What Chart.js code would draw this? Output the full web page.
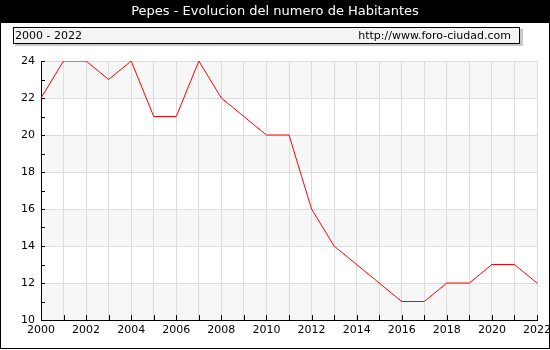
<!DOCTYPE html>
<html>
<head>
<meta charset="utf-8">
<script src="https://cdn.jsdelivr.net/npm/chart.js@4"></script>
<style>
  body { margin: 0; background: #fff; }
  canvas { display: block; }
</style>
</head>
<body>
<canvas id="HabitantesChart" width="550" height="350"></canvas>
<script>
var years = ["2000", "2001", "2002", "2003", "2004", "2005", "2006", "2007", "2008", "2009", "2010", "2011",
    "2012", "2013", "2014", "2015", "2016", "2017", "2018", "2019", "2020", "2021", "2022"];
var habitantes = [22, 24, 24, 23, 24, 21, 21, 24, 22, 21, 20, 20, 16, 14, 13, 12, 11, 11, 12, 12, 13, 13, 12];
var yTicks = [10, 12, 14, 16, 18, 20, 22, 24];
var titleText = "Pepes - Evolucion del numero de Habitantes";
var rangeText = "2000 - 2022";
var siteText = "http://www.foro-ciudad.com";

var FONT = "DejaVu Sans";

// bands, title bar, info box and the small inner tick marks
var decor = {
    id: 'decor',
    beforeDraw: function (chart) {
        var c = chart.ctx, a = chart.chartArea, y = chart.scales.y;
        c.save();
        c.fillStyle = '#fff';
        c.fillRect(0, 0, chart.width, chart.height);
        c.fillStyle = '#f7f7f7';
        for (var i = 0; i < yTicks.length - 1; i += 2) {
            var top = y.getPixelForValue(yTicks[i + 1]);
            var bot = y.getPixelForValue(yTicks[i]);
            c.fillRect(a.left, top, a.right - a.left, bot - top);
        }
        c.restore();
    },
    afterDraw: function (chart) {
        var c = chart.ctx, a = chart.chartArea, x = chart.scales.x, y = chart.scales.y;
        c.save();
        // title bar
        c.fillStyle = '#000';
        c.fillRect(0, 0, chart.width, 23);
        c.fillStyle = '#fff';
        c.font = '13px "' + FONT + '"';
        c.textAlign = 'center';
        c.textBaseline = 'middle';
        c.fillText(titleText, chart.width / 2, 12);
        // info box with shadow
        c.fillStyle = '#c8c8c8';
        c.fillRect(15, 29, 508, 17);
        c.fillStyle = '#f4f4f4';
        c.fillRect(13, 27, 507, 17);
        c.strokeStyle = '#000';
        c.lineWidth = 1;
        c.strokeRect(13.5, 27.5, 506, 16);
        c.fillStyle = '#000';
        c.font = '11px "' + FONT + '"';
        c.textAlign = 'left';
        c.fillText(rangeText, 15, 36);
        c.textAlign = 'right';
        c.fillText(siteText, 511, 36);
        // y ticks, major and minor, pointing into the plot
        c.strokeStyle = '#000';
        c.beginPath();
        for (var v = yTicks[0]; v <= yTicks[yTicks.length - 1]; v++) {
            var py = Math.round(y.getPixelForValue(v)) + 0.5;
            c.moveTo(a.left, py);
            c.lineTo(a.left + 4, py);
        }
        // x ticks pointing up
        for (var i = 0; i < years.length; i++) {
            var px = Math.round(x.getPixelForValue(i)) + 0.5;
            c.moveTo(px, a.bottom);
            c.lineTo(px, a.bottom - 5);
        }
        c.stroke();
        // outer frame
        c.strokeRect(0.5, 0.5, chart.width - 1, chart.height - 2);
        c.restore();
    }
};

var ctx = document.getElementById("HabitantesChart").getContext("2d");

var lineChart = new Chart(ctx, {
    type: 'line',
    data: {
        labels: years,
        datasets: [{
            label: "Habitantes",
            data: habitantes,
            borderColor: '#ff0000',
            borderWidth: 1,
            pointRadius: 0,
            tension: 0,
            fill: false
        }]
    },
    plugins: [decor],
    options: {
        responsive: false,
        animation: false,
        layout: { padding: { left: 0, top: 61, right: 13, bottom: 0 } },
        plugins: {
            legend: { display: false },
            title: { display: false },
            tooltip: { enabled: false }
        },
        scales: {
            x: {
                offset: false,
                afterFit: function (s) {
                    s.height = 30;
                    s.paddingLeft = 0;
                    s.paddingRight = 0;
                },
                grid: { color: '#dddddd', drawTicks: false },
                border: { color: '#000' },
                ticks: {
                    autoSkip: false,
                    maxRotation: 0,
                    padding: 4,
                    color: '#000',
                    font: { family: FONT, size: 11 },
                    callback: function (v, i) { return i % 2 === 0 ? years[i] : ''; }
                }
            },
            y: {
                min: 10,
                max: 24,
                afterFit: function (s) {
                    s.width = 41;
                    s.paddingTop = 0;
                    s.paddingBottom = 0;
                },
                grid: { color: '#dddddd', drawTicks: false },
                border: { color: '#000' },
                ticks: {
                    stepSize: 2,
                    padding: 6,
                    color: '#000',
                    font: { family: FONT, size: 11 }
                }
            }
        }
    }
});
</script>
</body>
</html>
